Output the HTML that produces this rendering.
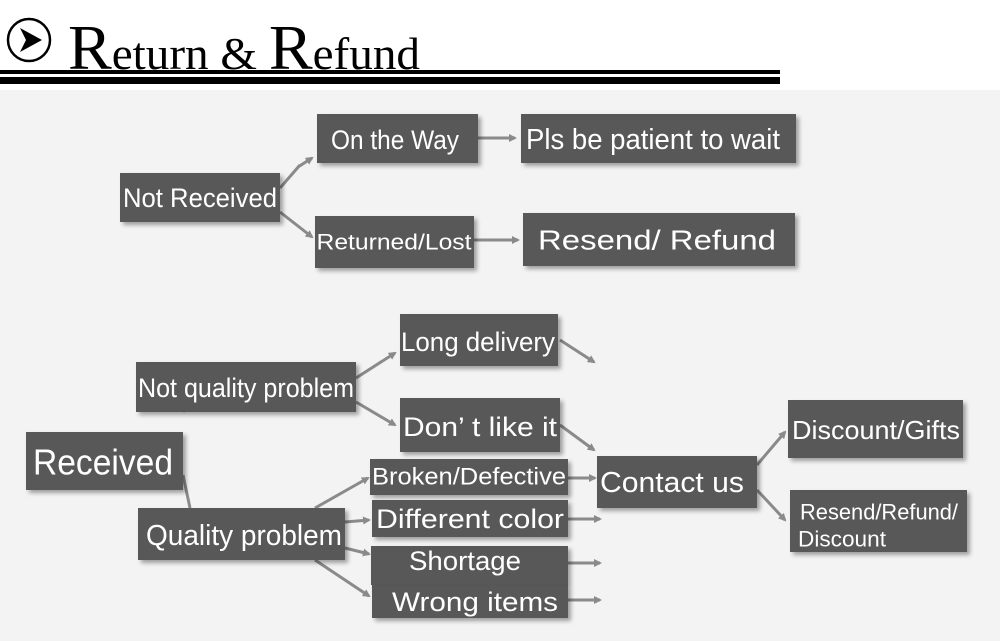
<!DOCTYPE html>
<html><head><meta charset="utf-8"><style>
html,body{margin:0;padding:0;background:#fff}
svg{display:block}
.b{fill:#595959;filter:url(#sh)}
.t{font-family:"Liberation Sans",sans-serif;fill:#fff;dominant-baseline:central;text-anchor:middle}
.a{stroke:#8a8a8a;stroke-width:2.5;fill:none;marker-end:url(#ar)}
.l{stroke:#8a8a8a;stroke-width:2.5;fill:none}
</style></head><body>
<svg width="1000" height="641" viewBox="0 0 1000 641" xmlns="http://www.w3.org/2000/svg">
<defs>
<filter id="sh" x="-10%" y="-20%" width="130%" height="150%"><feDropShadow dx="3" dy="3" stdDeviation="2" flood-color="#000" flood-opacity="0.35"/></filter>
<marker id="ar" markerWidth="8" markerHeight="8" refX="6" refY="4" orient="auto" markerUnits="userSpaceOnUse" viewBox="0 0 8 8"><path d="M0,0 L8,4 L0,8 z" fill="#8a8a8a"/></marker>
<marker id="ar2" markerWidth="14" markerHeight="14" refX="12" refY="7" orient="auto" markerUnits="userSpaceOnUse" viewBox="0 0 14 14"><path d="M0,0 L14,7 L0,14 z" fill="#8a8a8a"/></marker>
</defs>
<rect x="0" y="90" width="1000" height="551" fill="#f3f3f3"/>
<!-- title -->
<circle cx="29" cy="40" r="21" fill="none" stroke="#000" stroke-width="2.5"/>
<path d="M20,28 L42,40 L20,52 L26,40 z" fill="#000"/>
<text x="68" y="69" font-family="Liberation Serif,serif" font-size="46" fill="#000" textLength="352" lengthAdjust="spacingAndGlyphs"><tspan font-size="64">R</tspan>eturn &amp; <tspan font-size="64">R</tspan>efund</text>
<rect x="0" y="70" width="780" height="4" fill="#000"/>
<rect x="0" y="77" width="780" height="7" fill="#000"/>
<!-- connectors -->
<g>
<path class="l" d="M280,188 L300,165" style="stroke-width:3"/><path class="a" d="M298,167 L312,158" marker-end="url(#ar2)" style="stroke-width:3"/>
<path class="a" d="M280,212 L312,237" marker-end="url(#ar2)" style="stroke-width:3"/>
<path class="a" d="M478,138 L515,138" marker-end="url(#ar2)" style="stroke-width:3"/>
<path class="a" d="M474,240 L518,240" marker-end="url(#ar2)" style="stroke-width:3"/>
<path class="a" d="M356,378 L395,353" marker-end="url(#ar2)" style="stroke-width:3"/>
<path class="a" d="M356,402 L395,425" marker-end="url(#ar2)" style="stroke-width:3"/>
<path class="a" d="M560,340 L594,362" marker-end="url(#ar2)" style="stroke-width:3"/>
<path class="a" d="M560,425 L594,450" marker-end="url(#ar2)" style="stroke-width:3"/>
<path class="l" d="M183,412 L190,395" style="stroke-width:3"/>
<path class="l" d="M183,475 L190,508" style="stroke-width:3"/>
<path class="a" d="M315,508 L368,478" marker-end="url(#ar2)" style="stroke-width:3"/>
<path class="a" d="M345,522 L369,520" marker-end="url(#ar2)" style="stroke-width:3"/>
<path class="a" d="M345,548 L369,554" marker-end="url(#ar2)" style="stroke-width:3"/>
<path class="a" d="M315,560 L369,596" marker-end="url(#ar2)" style="stroke-width:3"/>
<path class="a" d="M568,478 L595,478" marker-end="url(#ar2)" style="stroke-width:3"/>
<path class="a" d="M568,519 L600,519" marker-end="url(#ar2)" style="stroke-width:3"/>
<path class="a" d="M568,563 L600,563" marker-end="url(#ar2)" style="stroke-width:3"/>
<path class="a" d="M568,600 L600,600" marker-end="url(#ar2)" style="stroke-width:3"/>
<path class="a" d="M757,465 L785,432" marker-end="url(#ar2)" style="stroke-width:3"/>
<path class="a" d="M757,490 L785,520" marker-end="url(#ar2)" style="stroke-width:3"/>
</g>
<!-- boxes -->
<rect class="b" x="120" y="173" width="160" height="49"/><text class="t" x="200" y="198" font-size="27" textLength="154" lengthAdjust="spacingAndGlyphs">Not Received</text>
<rect class="b" x="317" y="114" width="161" height="49"/><text class="t" x="395" y="140" font-size="27" textLength="128" lengthAdjust="spacingAndGlyphs">On the Way</text>
<rect class="b" x="521" y="114" width="275" height="49"/><text class="t" x="653" y="140" font-size="29" textLength="254" lengthAdjust="spacingAndGlyphs">Pls be patient to wait</text>
<rect class="b" x="315" y="216" width="159" height="52"/><text class="t" x="394" y="242" font-size="22" textLength="155" lengthAdjust="spacingAndGlyphs">Returned/Lost</text>
<rect class="b" x="523" y="213" width="272" height="53"/><text class="t" x="657" y="240" font-size="28" textLength="238" lengthAdjust="spacingAndGlyphs">Resend/ Refund</text>
<rect class="b" x="400" y="314" width="158" height="52"/><text class="t" x="478" y="342" font-size="27" textLength="154" lengthAdjust="spacingAndGlyphs">Long delivery</text>
<rect class="b" x="136" y="362" width="220" height="50"/><text class="t" x="246" y="388" font-size="27" textLength="216" lengthAdjust="spacingAndGlyphs">Not quality problem</text>
<rect class="b" x="400" y="398" width="160" height="54"/><text class="t" x="480" y="427" font-size="27" textLength="154" lengthAdjust="spacingAndGlyphs">Don’ t like it</text>
<rect class="b" x="26" y="432" width="157" height="58"/><text class="t" x="103" y="462" font-size="36" textLength="140" lengthAdjust="spacingAndGlyphs">Received</text>
<rect class="b" x="370" y="459" width="198" height="36"/><text class="t" x="469" y="477" font-size="24" textLength="194" lengthAdjust="spacingAndGlyphs">Broken/Defective</text>
<rect class="b" x="597" y="456" width="160" height="52"/><text class="t" x="672" y="483" font-size="29" textLength="144" lengthAdjust="spacingAndGlyphs">Contact us</text>
<rect class="b" x="788" y="400" width="175" height="58"/><text class="t" x="876" y="430" font-size="26" textLength="168" lengthAdjust="spacingAndGlyphs">Discount/Gifts</text>
<rect class="b" x="372" y="500" width="196" height="37"/><text class="t" x="470" y="519" font-size="27" textLength="188" lengthAdjust="spacingAndGlyphs">Different color</text>
<rect class="b" x="138" y="508" width="207" height="52"/><text class="t" x="244" y="536" font-size="29" textLength="196" lengthAdjust="spacingAndGlyphs">Quality problem</text>
<rect class="b" x="371" y="546" width="197" height="39"/><text class="t" x="465" y="561" font-size="27" textLength="112" lengthAdjust="spacingAndGlyphs">Shortage</text>
<rect class="b" x="372" y="585" width="196" height="33"/><text class="t" x="475" y="602" font-size="27" textLength="166" lengthAdjust="spacingAndGlyphs">Wrong items</text>
<rect class="b" x="790" y="490" width="177" height="62"/>
<text x="800" y="512" font-family="Liberation Sans,sans-serif" font-size="22" fill="#fff" dominant-baseline="central" textLength="158" lengthAdjust="spacingAndGlyphs">Resend/Refund/</text>
<text x="798" y="539" font-family="Liberation Sans,sans-serif" font-size="22" fill="#fff" dominant-baseline="central" textLength="88" lengthAdjust="spacingAndGlyphs">Discount</text>
</svg>
</body></html>
